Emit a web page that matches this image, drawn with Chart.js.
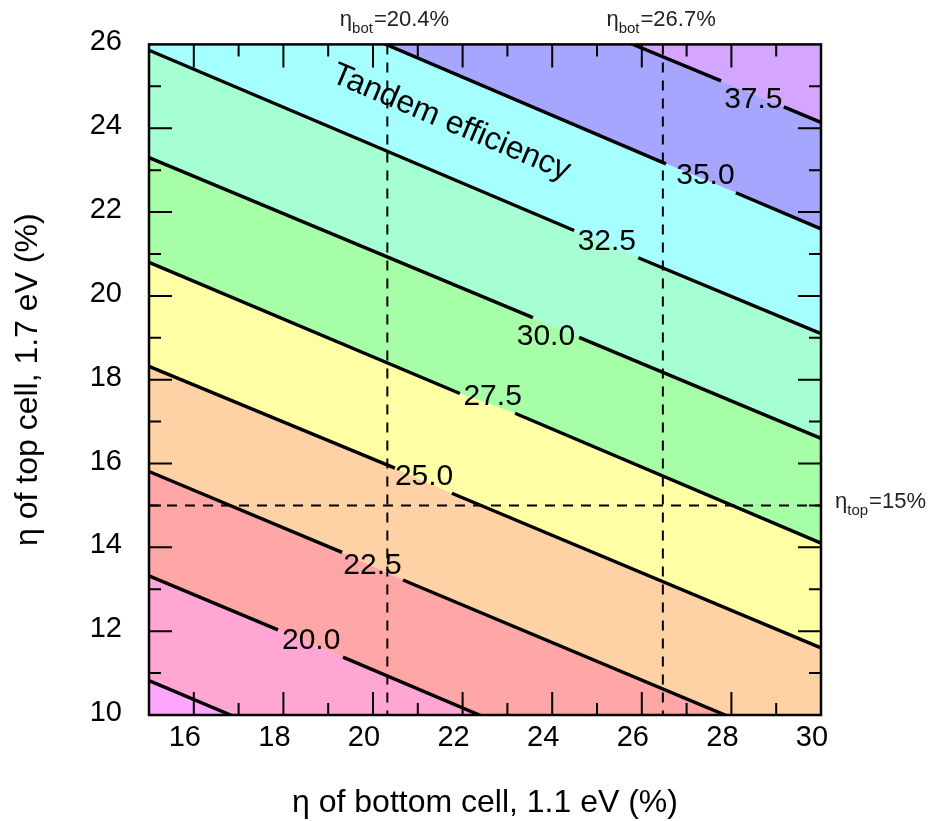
<!DOCTYPE html>
<html>
<head>
<meta charset="utf-8">
<script src="https://cdn.jsdelivr.net/npm/chart.js@4.4.1/dist/chart.umd.min.js"></script>
<style>
html,body{margin:0;padding:0;background:#ffffff;}
#wrap{position:relative;width:932px;height:821px;}
</style>
</head>
<body>
<div id="wrap"><canvas id="chart" width="932" height="821"></canvas></div>
<script>
// ---------------- data ----------------
// contour levels of tandem efficiency (%)
const contourLevels = ['17.5', '20.0', '22.5', '25.0', '27.5', '30.0', '32.5', '35.0', '37.5'];
// vertices of each contour line: η_bottom (%) and η_top (%)
// (start, label-gap start, label-gap end, end)
const contourX = [
  [15, 30],
  [15, 17.88, 19.33, 30],
  [15, 19.31, 20.67, 30],
  [15, 20.49, 21.76, 30],
  [15, 21.94, 23.17, 30],
  [15, 23.57, 24.60, 30],
  [15, 24.49, 25.92, 30],
  [15, 26.54, 28.10, 30],
  [15, 27.77, 29.17, 30]
];
const contourY = [
  [10.82, 4.06],
  [13.32, 12.03, 11.38, 6.54],
  [15.81, 13.88, 13.22, 9.04],
  [18.32, 15.89, 15.29, 11.60],
  [20.80, 17.67, 17.20, 14.10],
  [23.30, 19.48, 19.01, 16.60],
  [25.86, 21.56, 20.91, 19.10],
  [28.41, 23.15, 22.46, 21.60],
  [30.78, 25.13, 24.51, 24.14]
];
// where each contour label sits (data coordinates)
const labelLevels = ['20.0', '22.5', '25.0', '27.5', '30.0', '32.5', '35.0', '37.5'];
const labelX = [18.62, 19.99, 21.14, 22.67, 23.86, 25.22, 27.42, 28.49];
const labelY = [11.76, 13.57, 15.69, 17.59, 19.02, 21.29, 22.87, 24.69];
// band colours, lowest to highest
const bandColors = ['#FFA6FF', '#FFA6D4', '#FFA6A6', '#FFD2A6', '#FFFFA6', '#A6FFA6', '#A6FFD2', '#A6FFFF', '#A6A6FF', '#D4A6FF'];
// reference (dashed) lines
const refBottomX = [20.32, 26.47];
const refBottomText = ['=20.4%', '=26.7%'];
const refBottomLabelX = [20.48, 26.43];
const refTopY = [15];
const refTopText = ['=15%'];
// axes
const xTickValues = [16, 18, 20, 22, 24, 26, 28, 30];
const yTickValues = [10, 12, 14, 16, 18, 20, 22, 24, 26];
const xRange = [15, 30];
const yRange = [10, 26];
const tandemText = 'Tandem efficiency';
const tandemPos = [21.74, 24.13];

// ---------------- chart ----------------
const FONT = '"Liberation Sans", Arimo, Arial, Helvetica, sans-serif';
const pointsOf = i => contourX[i].map((xv, j) => ({x: xv, y: contourY[i][j]}));
const datasets = [];
// filled bands (no segment styling so each band is one polygon)
contourLevels.forEach((lvl, i) => {
  datasets.push({
    label: 'band ' + lvl,
    data: pointsOf(i),
    borderWidth: 0,
    pointRadius: 0,
    backgroundColor: bandColors[i],
    fill: i === 0 ? 'start' : '-1',
    tension: 0,
    clip: 0
  });
});
datasets.push({
  label: 'band top',
  data: pointsOf(contourLevels.length - 1),
  borderWidth: 0,
  pointRadius: 0,
  backgroundColor: bandColors[9],
  fill: 'end',
  clip: 0
});
// contour lines, broken where the label sits
contourLevels.forEach((lvl, i) => {
  const hasGap = contourX[i].length === 4;
  datasets.push({
    label: lvl,
    data: pointsOf(i),
    borderColor: '#000',
    borderWidth: 3.4,
    borderJoinStyle: 'round',
    pointRadius: 0,
    fill: false,
    tension: 0,
    clip: 0,
    segment: {
      borderColor: ctx => (hasGap && ctx.p0DataIndex === 1) ? 'rgba(0,0,0,0)' : '#000'
    }
  });
});
refBottomX.forEach(v => datasets.push({
  label: 'ref ' + v,
  data: [{x: v, y: yRange[1]}, {x: v, y: yRange[0]}],
  borderColor: '#000', borderWidth: 2, borderDash: [10, 8],
  pointRadius: 0, fill: false, clip: 0
}));
refTopY.forEach(v => datasets.push({
  label: 'ref top ' + v,
  data: [{x: xRange[0], y: v}, {x: xRange[1], y: v}],
  borderColor: '#000', borderWidth: 2, borderDash: [10, 8],
  pointRadius: 0, fill: false, clip: 0
}));

function drawEta(ctx, sub, rest, x, yBase, align) {
  const mainFont = '22px ' + FONT, subFont = '15px ' + FONT;
  ctx.font = mainFont;
  const w1 = ctx.measureText('η').width;
  const w3 = ctx.measureText(rest).width;
  ctx.font = subFont;
  const w2 = ctx.measureText(sub).width;
  const total = w1 + w2 + w3 + 1;
  const sx = align === 'center' ? x - total / 2 : x;
  ctx.textAlign = 'left';
  ctx.textBaseline = 'alphabetic';
  ctx.fillStyle = '#222';
  ctx.font = mainFont; ctx.fillText('η', sx, yBase);
  ctx.font = subFont; ctx.fillText(sub, sx + w1, yBase + 7);
  ctx.font = mainFont; ctx.fillText(rest, sx + w1 + w2 + 1, yBase);
}

const annotations = {
  id: 'annotations',
  afterDatasetsDraw(chart) {
    const {ctx, scales: {x, y}} = chart;
    ctx.save();
    ctx.fillStyle = '#000';
    ctx.textAlign = 'center';
    ctx.textBaseline = 'middle';
    ctx.font = '30px ' + FONT;
    labelLevels.forEach((t, i) => {
      ctx.fillText(t, x.getPixelForValue(labelX[i]), y.getPixelForValue(labelY[i]));
    });
    // rotated "Tandem efficiency" along the contour direction
    const ref = 6;
    const n = contourX[ref].length - 1;
    const ang = Math.atan2(
      y.getPixelForValue(contourY[ref][n]) - y.getPixelForValue(contourY[ref][0]),
      x.getPixelForValue(contourX[ref][n]) - x.getPixelForValue(contourX[ref][0]));
    ctx.translate(x.getPixelForValue(tandemPos[0]), y.getPixelForValue(tandemPos[1]));
    ctx.rotate(ang);
    ctx.font = '32px ' + FONT;
    ctx.fillText(tandemText, 0, 0);
    ctx.restore();
  },
  afterDraw(chart) {
    const {ctx, chartArea: a, scales: {x, y}} = chart;
    ctx.save();
    ctx.strokeStyle = '#000';
    ctx.lineWidth = 2;
    ctx.beginPath();
    for (let v = xRange[0] + 1; v < xRange[1]; v++) {
      const len = xTickValues.includes(v) ? 23 : 12;
      const px = x.getPixelForValue(v);
      ctx.moveTo(px, a.bottom); ctx.lineTo(px, a.bottom - len);
      ctx.moveTo(px, a.top); ctx.lineTo(px, a.top + len);
    }
    for (let v = yRange[0] + 1; v < yRange[1]; v++) {
      const len = yTickValues.includes(v) ? 23 : 12;
      const py = y.getPixelForValue(v);
      ctx.moveTo(a.left, py); ctx.lineTo(a.left + len, py);
      ctx.moveTo(a.right, py); ctx.lineTo(a.right - len, py);
    }
    ctx.stroke();
    ctx.lineWidth = 2.5;
    ctx.strokeRect(a.left, a.top, a.right - a.left, a.bottom - a.top);
    // reference line labels
    refBottomX.forEach((v, i) => drawEta(ctx, 'bot', refBottomText[i], x.getPixelForValue(refBottomLabelX[i]), a.top - 18, 'center'));
    refTopY.forEach((v, i) => drawEta(ctx, 'top', refTopText[i], a.right + 14, y.getPixelForValue(v) + 3, 'left'));
    ctx.restore();
  }
};

new Chart(document.getElementById('chart'), {
  type: 'line',
  data: {datasets},
  options: {
    responsive: false,
    devicePixelRatio: 1,
    animation: false,
    layout: {padding: {left: 0, right: 111, top: 43, bottom: 0}},
    plugins: {
      legend: {display: false},
      tooltip: {enabled: false},
      filler: {propagate: false, drawTime: 'beforeDatasetsDraw'}
    },
    scales: {
      x: {
        type: 'linear',
        min: xRange[0], max: xRange[1],
        afterBuildTicks: s => { s.ticks = xTickValues.map(v => ({value: v})); },
        afterFit: s => { s.height = 106; },
        grid: {display: false, drawTicks: false},
        border: {display: false},
        ticks: {font: {family: FONT, size: 29}, color: '#000', padding: 6, labelOffset: -9, maxRotation: 0, autoSkip: false},
        title: {display: true, text: 'η of bottom cell, 1.1 eV (%)', color: '#000',
                font: {family: FONT, size: 32, lineHeight: 1}, padding: {top: 0, bottom: 2}}
      },
      y: {
        type: 'linear',
        min: yRange[0], max: yRange[1],
        afterBuildTicks: s => { s.ticks = yTickValues.map(v => ({value: v})); },
        afterFit: s => { s.width = 149; },
        grid: {display: false, drawTicks: false},
        border: {display: false},
        ticks: {font: {family: FONT, size: 29}, color: '#000', padding: 27, labelOffset: -2, autoSkip: false},
        title: {display: true, text: 'η of top cell, 1.7 eV (%)', color: '#000',
                font: {family: FONT, size: 32, lineHeight: 1}, padding: {top: 12, bottom: 0}}
      }
    }
  },
  plugins: [annotations]
});
</script>
</body>
</html>
